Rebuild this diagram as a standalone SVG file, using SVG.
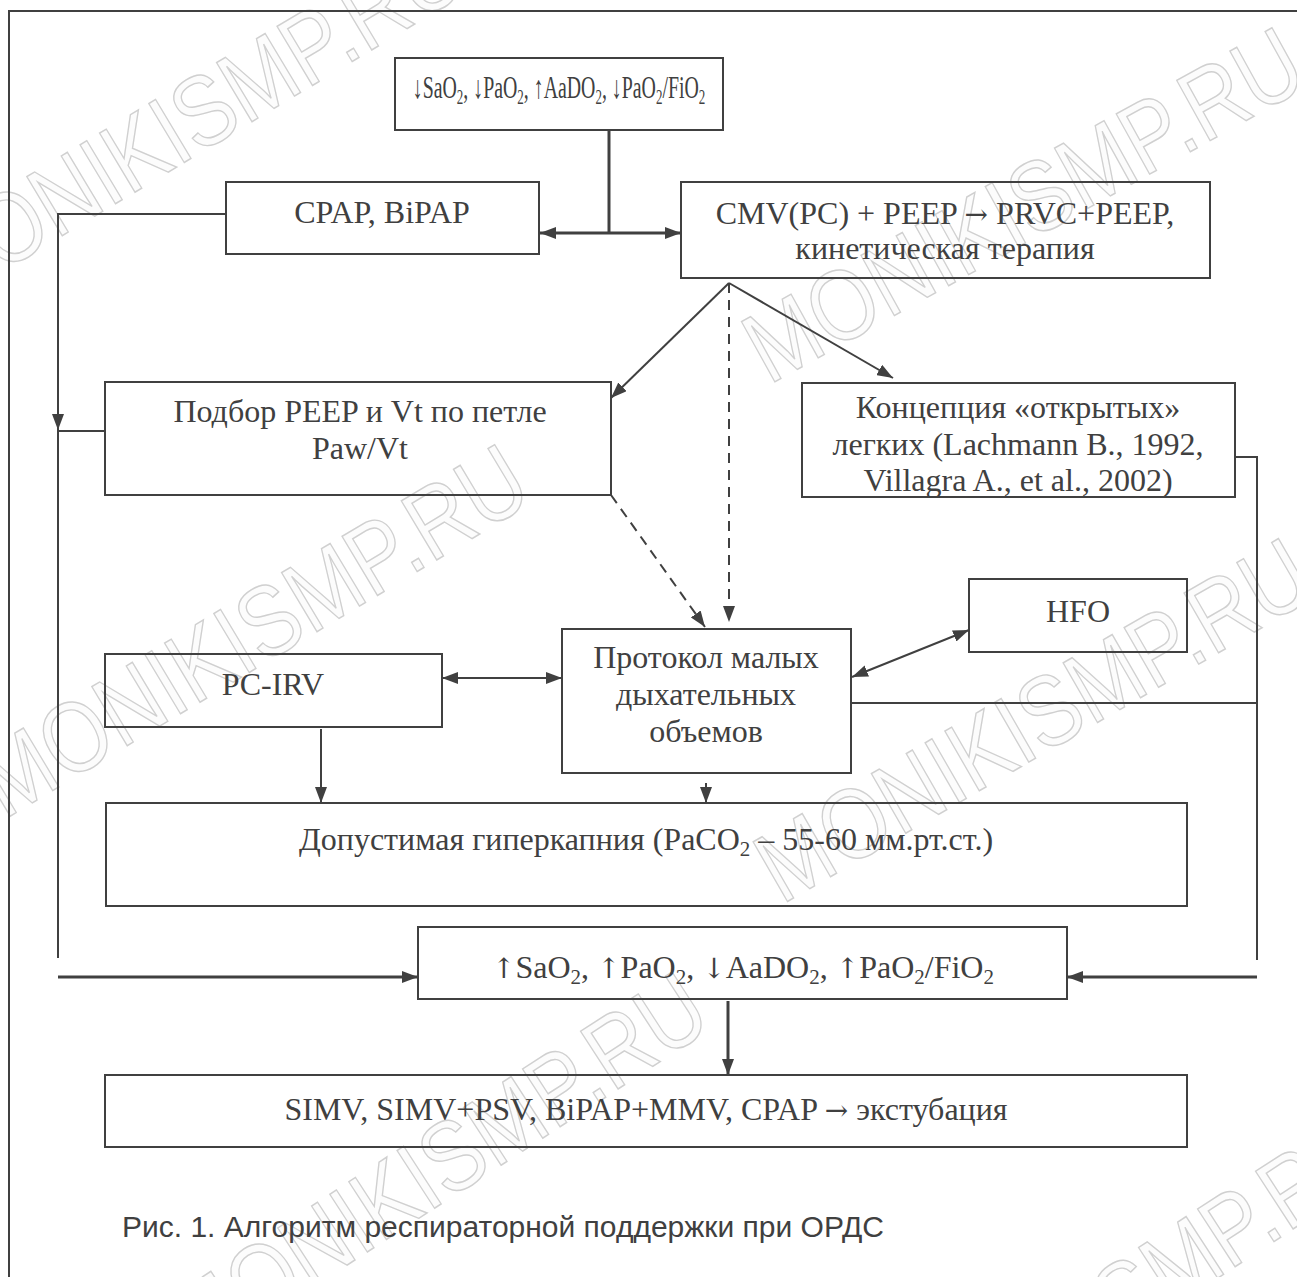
<svg xmlns="http://www.w3.org/2000/svg" width="1297" height="1277" viewBox="0 0 1297 1277">
<style>
.wm{font-family:"Liberation Sans",Arial,sans-serif;font-size:100px;fill:#fcfcfc;stroke:#d0d0d0;stroke-width:1.5;text-anchor:middle}
.box{fill:none;stroke:#404040;stroke-width:2}
.t{font-family:"Liberation Serif","Times New Roman",serif;font-size:32px;fill:#404040;text-anchor:middle}
.sub{font-size:21px}
.ar{font-family:"DejaVu Serif",serif;font-size:28px}
.ln{fill:none;stroke:#404040;stroke-width:2}
.thk{fill:none;stroke:#404040;stroke-width:3}
.dash{fill:none;stroke:#404040;stroke-width:2;stroke-dasharray:10,7}
.cap{font-family:"Liberation Sans",Arial,sans-serif;font-size:30px;fill:#404040}
</style>
<defs>
<marker id="ah" viewBox="0 0 16 12" refX="16" refY="6" markerWidth="16" markerHeight="12" markerUnits="userSpaceOnUse" orient="auto-start-reverse">
<path d="M0,0 L16,6 L0,12 z" fill="#404040"/>
</marker>
</defs>
<rect width="1297" height="1277" fill="#ffffff"/>
<g id="watermark">
<text class="wm" textLength="620" lengthAdjust="spacingAndGlyphs" transform="translate(205,150) rotate(-31)">MONIKISMP.RU</text>
<text class="wm" textLength="620" lengthAdjust="spacingAndGlyphs" transform="translate(1040,235) rotate(-29)">MONIKISMP.RU</text>
<text class="wm" textLength="620" lengthAdjust="spacingAndGlyphs" transform="translate(270,660) rotate(-31)">MONIKISMP.RU</text>
<text class="wm" textLength="620" lengthAdjust="spacingAndGlyphs" transform="translate(1050,750) rotate(-30)">MONIKISMP.RU</text>
<text class="wm" textLength="620" lengthAdjust="spacingAndGlyphs" transform="translate(455,1195) rotate(-33)">MONIKISMP.RU</text>
<text class="wm" textLength="620" lengthAdjust="spacingAndGlyphs" transform="translate(1130,1335) rotate(-33)">MONIKISMP.RU</text>
</g>
<path id="frame" class="ln" d="M9,1277 V11 H1297"/>
<g id="connectors">
<path class="thk" d="M609,130 V233"/>
<path class="thk" d="M540,233 H681" marker-start="url(#ah)" marker-end="url(#ah)"/>
<path class="ln" d="M226,214 H58 V430" marker-end="url(#ah)"/>
<path class="ln" d="M105,431 H58 V958"/>
<path class="ln" d="M729,283 L611,398" marker-end="url(#ah)"/>
<path class="dash" d="M729,283 V622" marker-end="url(#ah)"/>
<path class="ln" d="M729,283 L893,378" marker-end="url(#ah)"/>
<path class="dash" d="M611,495 L705,627" marker-end="url(#ah)"/>
<path class="ln" d="M1235,457 H1257 V960"/>
<path class="ln" d="M852,677 L969,630" marker-start="url(#ah)" marker-end="url(#ah)"/>
<path class="ln" d="M851,703 H1257"/>
<path class="ln" d="M442,678 H562" marker-start="url(#ah)" marker-end="url(#ah)"/>
<path class="ln" d="M321,729 V803" marker-end="url(#ah)"/>
<path class="ln" d="M706,783 V803" marker-end="url(#ah)"/>
<path class="thk" d="M58,977 H418" marker-end="url(#ah)"/>
<path class="thk" d="M1257,977 H1067" marker-end="url(#ah)"/>
<path class="thk" d="M728,1001 V1075" marker-end="url(#ah)"/>
</g>
<g id="n_top">
<rect class="box" x="395" y="58" width="328" height="72"/>
<text class="t" transform="translate(559,98) scale(0.62,1)" x="0" y="0" font-size="25">↓SaO<tspan class="sub" dy="6">2</tspan><tspan dy="-6">, ↓PaO</tspan><tspan class="sub" dy="6">2</tspan><tspan dy="-6">, ↑AaDO</tspan><tspan class="sub" dy="6">2</tspan><tspan dy="-6">, ↓PaO</tspan><tspan class="sub" dy="6">2</tspan><tspan dy="-6">/FiO</tspan><tspan class="sub" dy="6">2</tspan></text>
</g>
<g id="n_cpap">
<rect class="box" x="226" y="182" width="313" height="72"/>
<text class="t" x="382" y="223">CPAP, BiPAP</text>
</g>
<g id="n_cmv">
<rect class="box" x="681" y="182" width="529" height="96"/>
<text class="t" x="945" y="224">CMV(PC) + PEEP <tspan class="ar">→</tspan> PRVC+PEEP,</text>
<text class="t" x="945" y="259">кинетическая терапия</text>
</g>
<g id="n_podbor">
<rect class="box" x="105" y="382" width="506" height="113"/>
<text class="t" x="360" y="422">Подбор PEEP и Vt по петле</text>
<text class="t" x="360" y="459">Paw/Vt</text>
</g>
<g id="n_open">
<rect class="box" x="802" y="383" width="433" height="114"/>
<text class="t" x="1018" y="418">Концепция «открытых»</text>
<text class="t" x="1018" y="455">легких (Lachmann B., 1992,</text>
<text class="t" x="1018" y="491">Villagra A., et al., 2002)</text>
</g>
<g id="n_hfo">
<rect class="box" x="969" y="579" width="218" height="73"/>
<text class="t" x="1078" y="622">HFO</text>
</g>
<g id="n_protocol">
<rect class="box" x="562" y="629" width="289" height="144"/>
<text class="t" x="706" y="668">Протокол малых</text>
<text class="t" x="706" y="705">дыхательных</text>
<text class="t" x="706" y="742">объемов</text>
</g>
<g id="n_pcirv">
<rect class="box" x="105" y="654" width="337" height="73"/>
<text class="t" x="273" y="695">PC-IRV</text>
</g>
<g id="n_hyper">
<rect class="box" x="106" y="803" width="1081" height="103"/>
<text class="t" x="646" y="850">Допустимая гиперкапния (PaCO<tspan class="sub" dy="6">2</tspan><tspan dy="-6"> – 55-60 мм.рт.ст.)</tspan></text>
</g>
<g id="n_result">
<rect class="box" x="418" y="927" width="649" height="72"/>
<text class="t" x="743" y="978"><tspan class="ar">↑</tspan>SaO<tspan class="sub" dy="6">2</tspan><tspan dy="-6">, </tspan><tspan class="ar">↑</tspan>PaO<tspan class="sub" dy="6">2</tspan><tspan dy="-6">, </tspan><tspan class="ar">↓</tspan>AaDO<tspan class="sub" dy="6">2</tspan><tspan dy="-6">, </tspan><tspan class="ar">↑</tspan>PaO<tspan class="sub" dy="6">2</tspan><tspan dy="-6">/FiO</tspan><tspan class="sub" dy="6">2</tspan></text>
</g>
<g id="n_wean">
<rect class="box" x="105" y="1075" width="1082" height="72"/>
<text class="t" x="646" y="1120">SIMV, SIMV+PSV, BiPAP+MMV, CPAP <tspan class="ar">→</tspan> экстубация</text>
</g>
<text class="cap" x="122" y="1237">Рис. 1. Алгоритм респираторной поддержки при ОРДС</text>
</svg>
